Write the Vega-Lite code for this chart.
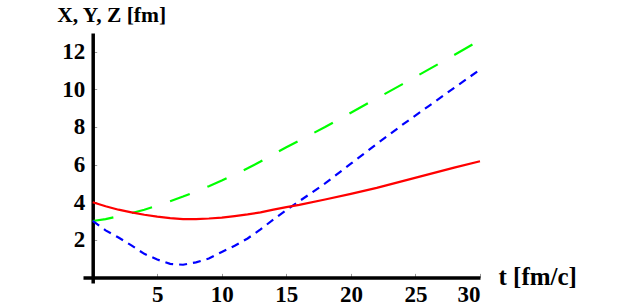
{
  "$schema": "https://vega.github.io/schema/vega-lite/v6.json",
  "width": 397,
  "height": 250,
  "autosize": {"type": "none"},
  "padding": {"left": 83, "top": 33, "right": 143, "bottom": 24},
  "background": "white",
  "config": {
    "view": {"stroke": null},
    "font": "Liberation Serif"
  },
  "datasets": {
    "X": [
      {"t": 0, "v": 4.0}, {"t": 1, "v": 3.78}, {"t": 2, "v": 3.6}, {"t": 3, "v": 3.46}, {"t": 4, "v": 3.33},
      {"t": 5, "v": 3.23}, {"t": 6, "v": 3.15}, {"t": 7, "v": 3.1}, {"t": 8, "v": 3.1}, {"t": 9, "v": 3.13},
      {"t": 10, "v": 3.18}, {"t": 11, "v": 3.26}, {"t": 12, "v": 3.35}, {"t": 13, "v": 3.46}, {"t": 14, "v": 3.6},
      {"t": 15, "v": 3.74}, {"t": 16, "v": 3.86}, {"t": 18, "v": 4.14}, {"t": 20, "v": 4.44}, {"t": 22, "v": 4.76},
      {"t": 24, "v": 5.12}, {"t": 26, "v": 5.48}, {"t": 28, "v": 5.84}, {"t": 30, "v": 6.18}
    ],
    "Y": [
      {"t": 0, "v": 3.0}, {"t": 1, "v": 2.5}, {"t": 2, "v": 2.12}, {"t": 3, "v": 1.7}, {"t": 4, "v": 1.25},
      {"t": 5, "v": 0.95}, {"t": 6, "v": 0.72}, {"t": 7, "v": 0.67}, {"t": 8, "v": 0.8}, {"t": 9, "v": 1.0},
      {"t": 10, "v": 1.35}, {"t": 11, "v": 1.68}, {"t": 12, "v": 2.07}, {"t": 13, "v": 2.55}, {"t": 14, "v": 3.08},
      {"t": 15, "v": 3.58}, {"t": 16, "v": 4.05}, {"t": 17, "v": 4.52}, {"t": 18, "v": 5.0}, {"t": 20, "v": 6.05},
      {"t": 22, "v": 7.1}, {"t": 24, "v": 8.12}, {"t": 26, "v": 9.1}, {"t": 28, "v": 10.08}, {"t": 30, "v": 11.05}
    ],
    "Z": [
      {"t": 0, "v": 3.0}, {"t": 1, "v": 3.1}, {"t": 2, "v": 3.25}, {"t": 3, "v": 3.42}, {"t": 4, "v": 3.6},
      {"t": 5, "v": 3.82}, {"t": 6, "v": 4.05}, {"t": 7, "v": 4.3}, {"t": 8, "v": 4.57}, {"t": 9, "v": 4.85},
      {"t": 10, "v": 5.15}, {"t": 11, "v": 5.47}, {"t": 12, "v": 5.8}, {"t": 13, "v": 6.16}, {"t": 14, "v": 6.55},
      {"t": 15, "v": 6.92}, {"t": 16, "v": 7.28}, {"t": 18, "v": 8.0}, {"t": 20, "v": 8.76}, {"t": 22, "v": 9.52},
      {"t": 24, "v": 10.28}, {"t": 26, "v": 11.05}, {"t": 28, "v": 11.83}, {"t": 30, "v": 12.62}
    ]
  },
  "encoding": {
    "x": {
      "field": "t", "type": "quantitative",
      "scale": {"domain": [-0.75, 30], "nice": false, "zero": false},
      "axis": {
        "offset": -5.6,
        "values": [5, 10, 15, 20, 25, 30],
        "grid": false,
        "domainColor": "black", "domainWidth": 3.5,
        "tickColor": "#999", "tickSize": -4, "tickWidth": 1,
        "labelFont": "Liberation Serif", "labelFontWeight": "bold", "labelFontSize": 23, "labelColor": "#000000",
        "labelPadding": 10,
        "title": "t [fm/c]",
        "titleFont": "Liberation Serif", "titleFontWeight": "bold", "titleFontSize": 25, "titleColor": "#000000",
        "titleAngle": 0, "titleAlign": "left", "titleBaseline": "alphabetic",
        "titleX": 415, "titleY": 7
      }
    },
    "y": {
      "field": "v", "type": "quantitative",
      "scale": {"domain": [-0.3, 13], "nice": false, "zero": false},
      "axis": {
        "offset": -9.7,
        "values": [2, 4, 6, 8, 10, 12],
        "grid": false,
        "domainColor": "black", "domainWidth": 3.5,
        "tickColor": "#999", "tickSize": -4, "tickWidth": 1,
        "labelFont": "Liberation Serif", "labelFontWeight": "bold", "labelFontSize": 23, "labelColor": "#000000",
        "labelPadding": 12,
        "title": "X, Y, Z [fm]",
        "titleFont": "Liberation Serif", "titleFontWeight": "bold", "titleFontSize": 21.5, "titleColor": "#000000",
        "titleAngle": 0, "titleAlign": "left", "titleBaseline": "alphabetic",
        "titleX": -36, "titleY": -12
      }
    }
  },
  "layer": [
    {
      "data": {"name": "Z"},
      "mark": {"type": "line", "color": "#00ff00", "strokeWidth": 2.2, "strokeDash": [21, 19]},
      "encoding": {}
    },
    {
      "data": {"name": "Y"},
      "mark": {"type": "line", "color": "#0000ff", "strokeWidth": 2.2, "strokeDash": [8, 6]},
      "encoding": {}
    },
    {
      "data": {"name": "X"},
      "mark": {"type": "line", "color": "#ff0000", "strokeWidth": 2.2},
      "encoding": {}
    }
  ]
}
